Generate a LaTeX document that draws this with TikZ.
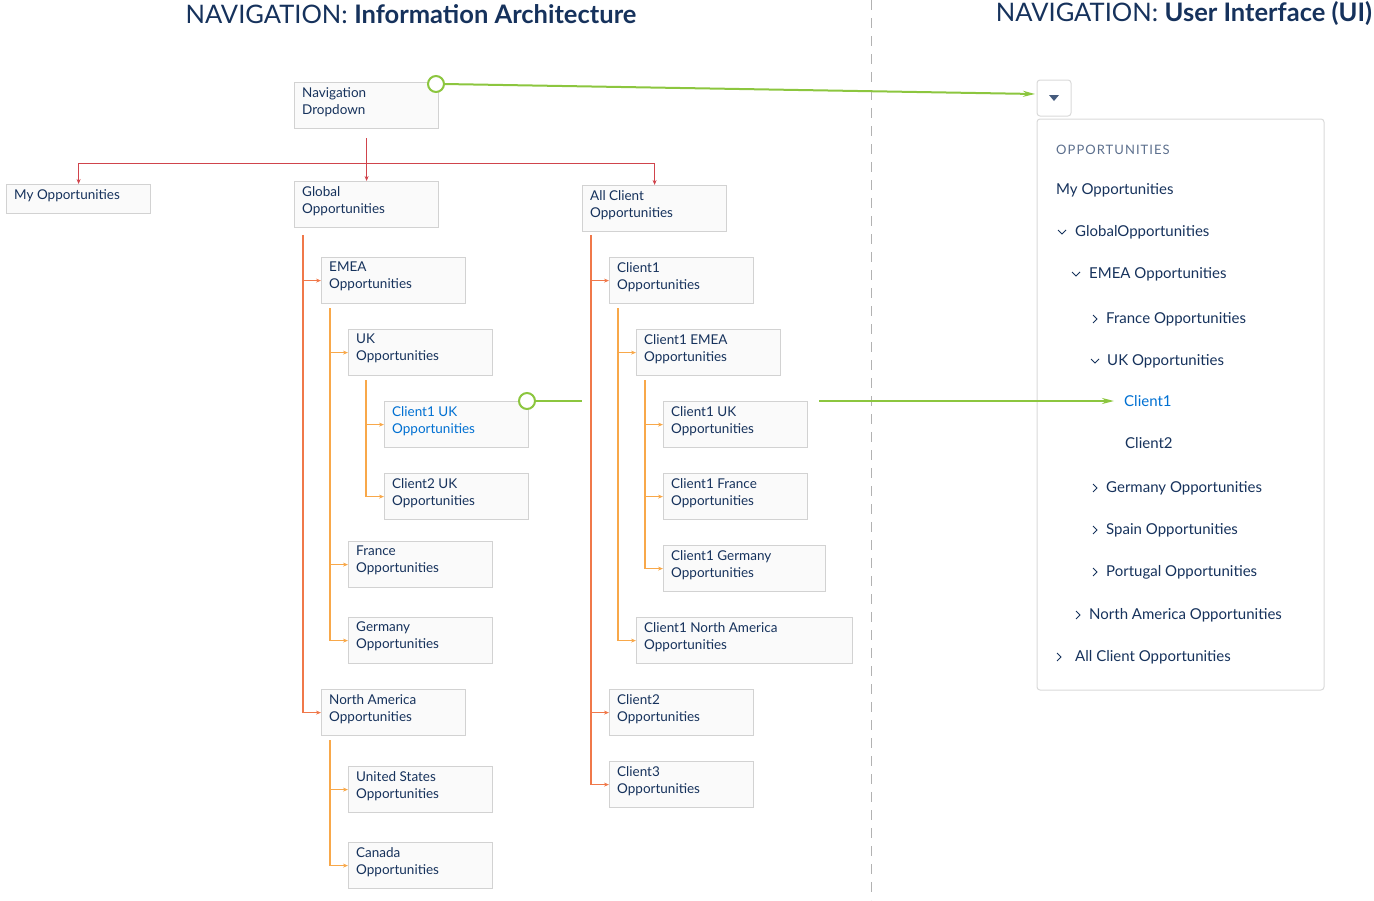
\documentclass[tikz,border=0pt]{standalone}
\usepackage{fontspec}
\setmainfont{Lato}
\usetikzlibrary{arrows.meta}
\definecolor{navy}{HTML}{16325C}
\definecolor{linkblue}{HTML}{0070D2}
\definecolor{trunkred}{HTML}{D0444C}
\definecolor{treeorange}{HTML}{F0784A}
\definecolor{subyellow}{HTML}{F8A84A}
\definecolor{navgreen}{HTML}{8CC63F}
\tikzset{
 box/.style={draw=gray!35, line width=1.2pt, fill=gray!4, anchor=north west, minimum width=144pt, minimum height=46pt, inner sep=0pt},
 lbl/.style={anchor=north west, align=left, text=navy, font=\fontsize{13.5}{17}\selectfont, inner sep=0pt},
 red/.style={draw=trunkred, line width=1pt, -{Stealth[length=5pt,width=4pt]}},
 tree/.style={draw=treeorange, line width=1.2pt, -{Stealth[length=5pt,width=4pt]}},
 sub/.style={draw=subyellow, line width=1.2pt, -{Stealth[length=5pt,width=4pt]}},
 link/.style={draw=navgreen, line width=2pt},
 menu/.style={anchor=west, text=navy, font=\fontsize{15}{17}\selectfont, inner sep=0pt},
}
% box: name, x, y, width, text
\newcommand{\iabox}[5]{%
 \node [box, minimum width=#4pt] (#1) at (#2,#3) {};
 \node [lbl] at (#2+8,#3+5) {#5};
}
\newcommand{\chevdown}[2]{\draw [navy, line width=0.8pt] (#1-4,#2-2) -- (#1,#2+2) -- (#1+4,#2-2);}
\newcommand{\chevright}[2]{\draw [navy, line width=0.8pt] (#1-2,#2-4) -- (#1+2,#2) -- (#1-2,#2+4);}
\begin{document}
\begin{tikzpicture}[x=1pt, y=-1pt]
 \useasboundingbox (0,0) rectangle (1374,900);
 % titles
 \node [text=navy, font=\fontsize{25.5}{28}\selectfont] at (411,14) {NAVIGATION: \textbf{Information Architecture}};
 \node [text=navy, font=\fontsize{25.5}{28}\selectfont] at (1184,14) {NAVIGATION: \textbf{User Interface (UI)}};
 \draw [gray!60, dash pattern=on 10pt off 8pt] (871,0) -- (871,900);
 % information architecture
 \iabox{nav}{294}{82}{144}{Navigation\\Dropdown}
 \node [box, minimum height=29pt] (myopp) at (6,184) {};
 \node [lbl] at (14,189) {My Opportunities};
 \iabox{global}{294}{181}{144}{Global\\Opportunities}
 \iabox{allclient}{582}{185}{144}{All Client\\Opportunities}
 \iabox{emea}{321}{257}{144}{EMEA\\Opportunities}
 \iabox{uk}{348}{329}{144}{UK\\Opportunities}
 \iabox{clukglobal}{384}{401}{144}{\textcolor{linkblue}{Client1 UK}\\\textcolor{linkblue}{Opportunities}}
 \iabox{cltwouk}{384}{473}{144}{Client2 UK\\Opportunities}
 \iabox{france}{348}{541}{144}{France\\Opportunities}
 \iabox{germany}{348}{617}{144}{Germany\\Opportunities}
 \iabox{na}{321}{689}{144}{North America\\Opportunities}
 \iabox{us}{348}{766}{144}{United States\\Opportunities}
 \iabox{canada}{348}{842}{144}{Canada\\Opportunities}
 \iabox{clone}{609}{257}{144}{Client1\\Opportunities}
 \iabox{cloneemea}{636}{329}{144}{Client1 EMEA\\Opportunities}
 \iabox{cloneuk}{663}{401}{144}{Client1 UK\\Opportunities}
 \iabox{clonefrance}{663}{473}{144}{Client1 France\\Opportunities}
 \iabox{clonegermany}{663}{545}{162}{Client1 Germany\\Opportunities}
 \iabox{clonena}{636}{617}{216}{Client1 North America\\Opportunities}
 \iabox{cltwo}{609}{689}{144}{Client2\\Opportunities}
 \iabox{clthree}{609}{761}{144}{Client3\\Opportunities}
 % red level
 \draw [red] (nav.south) ++(0,9) -- (global.north);
 \draw [red] (366,163) -| (myopp.north);
 \draw [red] (366,163) -| (allclient.north);
 % trees
 \coordinate (gtop) at (303,235);
 \coordinate (atop) at (591,235);
 \foreach \n in {emea,na} \draw [tree] (gtop) |- (\n.west);
 \foreach \n in {clone,cltwo,clthree} \draw [tree] (atop) |- (\n.west);
 \foreach \n in {uk,france,germany} \draw [sub] (330,308) |- (\n.west);
 \foreach \n in {clukglobal,cltwouk} \draw [sub] (366,380) |- (\n.west);
 \foreach \n in {us,canada} \draw [sub] (330,740) |- (\n.west);
 \foreach \n in {cloneemea,clonena} \draw [sub] (618,308) |- (\n.west);
 \foreach \n in {cloneuk,clonefrance,clonegermany} \draw [sub] (645,380) |- (\n.west);
 % user interface
 \draw [gray!30, line width=1pt, rounded corners=3pt] (1037,80) rectangle (1071,116);
 \fill [navy!80] (1049,95) -- (1059,95) -- (1054,101) -- cycle;
 \coordinate (button) at (1035,94);
 \draw [gray!30, line width=1pt, rounded corners=3pt] (1037,119) rectangle (1324,690);
 \node [menu, text=navy!70, font=\fontsize{13}{15}\selectfont] at (1056,150) {\addfontfeature{LetterSpace=8}OPPORTUNITIES};
 \node [menu] at (1056,190) {My Opportunities};
 \chevdown{1062}{232} \node [menu] at (1075,232) {GlobalOpportunities};
 \chevdown{1076}{274} \node [menu] at (1089,274) {EMEA Opportunities};
 \chevright{1095}{319} \node [menu] at (1106,319) {France Opportunities};
 \chevdown{1095}{361} \node [menu] at (1107,361) {UK Opportunities};
 \node [menu, text=linkblue] (uiclone) at (1124,401) {Client1};
 \node [menu] at (1125,443) {Client2};
 \chevright{1095}{488} \node [menu] at (1106,488) {Germany Opportunities};
 \chevright{1095}{530} \node [menu] at (1106,530) {Spain Opportunities};
 \chevright{1095}{572} \node [menu] at (1106,572) {Portugal Opportunities};
 \chevright{1078}{615} \node [menu] at (1089,615) {North America Opportunities};
 \chevright{1059}{657} \node [menu] at (1075,657) {All Client Opportunities};
 % links
 \draw [link, fill=white] (436,84) circle (8pt);
 \draw [link, -{Stealth[length=12pt,width=6pt]}] (444,84) -- (button);
 \draw [link, fill=white] (527,401) circle (8pt);
 \draw [link] (535,401) -- (582,401);
 \draw [link, -{Stealth[length=12pt,width=6pt]}] (819,401) -- ([xshift=-10pt]uiclone.west);
\end{tikzpicture}
\end{document}
